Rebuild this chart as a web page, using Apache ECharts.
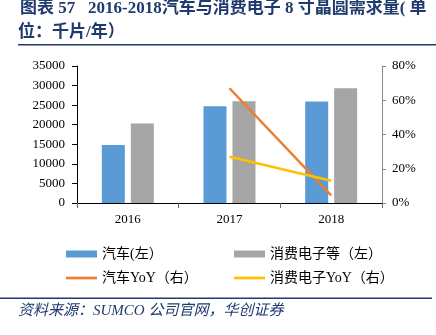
<!DOCTYPE html>
<html><head><meta charset="utf-8">
<script src="https://cdn.jsdelivr.net/npm/echarts@6/dist/echarts.min.js"></script>
<style>html,body{margin:0;padding:0;background:#fff}#c{width:436px;height:335px}</style>
</head><body><div id="c"></div>
<script>
const categories = ['2016', '2017', '2018'];
const autoDemand = [14800, 24700, 25900];
const consumerDemand = [20300, 26000, 29300];
const autoYoY = [null, 0.67, 0.045];
const consumerYoY = [null, 0.27, 0.13];
const leftTicks = [0, 35000, 5000];
const rightTicks = [0, 0.8, 0.2];
const names = ['汽车(左）', '消费电子等（左）', '汽车YoY（右）', '消费电子YoY（右）'];

const serif = '"Liberation Serif","Noto Sans CJK SC",serif';
const cjk = '"Liberation Serif","Noto Sans CJK SC",sans-serif';
const lineIcon = 'path://M0,0 L40,0 L40,3.5 L0,3.5 Z';
const chart = echarts.init(document.getElementById('c'), null, {renderer: 'canvas'});
chart.setOption({
  animation: false,
  backgroundColor: '#fff',
  grid: {left: 77, right: 54, top: 66, bottom: 132},
  graphic: [
    {type: 'text', left: 20, top: 0, style: {text: '图表 57   2016-2018汽车与消费电子 8 寸晶圆需求量( 单', font: 'bold 17px ' + cjk, fill: '#1F3A6E'}},
    {type: 'text', left: 18, top: 24, style: {text: '位：千片/年）', font: 'bold 17px ' + cjk, fill: '#1F3A6E'}},
    {type: 'rect', shape: {x: 18, y: 44, width: 418, height: 1.5}, style: {fill: '#1F3A6E'}},
    {type: 'rect', shape: {x: 0, y: 297.5, width: 432, height: 1.5}, style: {fill: '#1F3A6E'}},
    {type: 'text', left: 18, top: 304, style: {text: '资料来源：SUMCO 公司官网，华创证券', font: 'italic 15px ' + cjk, fill: '#1F3A6E'}}
  ],
  legend: [
    {left: 61, top: 242, orient: 'vertical', itemGap: 10, itemWidth: 31, itemHeight: 18, symbolKeepAspect: true,
     textStyle: {fontFamily: cjk, fontSize: 14, color: '#000'},
     data: [{name: names[0], icon: 'path://M0,0 L31,0 L31,7 L0,7 Z'}, {name: names[2], icon: lineIcon}]},
    {left: 229, top: 242, orient: 'vertical', itemGap: 10, itemWidth: 31, itemHeight: 18, symbolKeepAspect: true,
     textStyle: {fontFamily: cjk, fontSize: 14, color: '#000'},
     data: [{name: names[1], icon: 'path://M0,0 L31,0 L31,7 L0,7 Z'}, {name: names[3], icon: lineIcon}]}
  ],
  xAxis: {
    type: 'category', data: categories, boundaryGap: true,
    axisLine: {lineStyle: {color: '#000', width: 1}},
    axisTick: {show: true, length: 5, lineStyle: {color: '#666'}},
    axisLabel: {fontFamily: serif, fontSize: 13, color: '#000', margin: 10}
  },
  yAxis: [
    {type: 'value', min: leftTicks[0], max: leftTicks[1], interval: leftTicks[2],
     axisLine: {show: true, lineStyle: {color: '#000'}},
     axisTick: {show: true, length: 5, lineStyle: {color: '#000'}},
     splitLine: {show: false},
     axisLabel: {fontFamily: serif, fontSize: 13, color: '#000', margin: 12, formatter: v => String(v)}},
    {type: 'value', min: rightTicks[0], max: rightTicks[1], interval: rightTicks[2], position: 'right',
     axisLine: {show: true, lineStyle: {color: '#888'}},
     axisTick: {show: true, length: 4, lineStyle: {color: '#888'}},
     splitLine: {show: false},
     axisLabel: {fontFamily: serif, fontSize: 13, color: '#000', margin: 10,
       formatter: v => Math.round(v * 100) + '%'}}
  ],
  series: [
    {name: names[0], type: 'bar', data: autoDemand, barWidth: 23, barGap: '26%', itemStyle: {color: '#5B9BD5'}},
    {name: names[1], type: 'bar', data: consumerDemand, barWidth: 23, itemStyle: {color: '#A5A5A5'}},
    {name: names[2], type: 'line', yAxisIndex: 1, data: autoYoY, symbol: 'none', lineStyle: {color: '#ED7D31', width: 2.5}, itemStyle: {color: '#ED7D31'}},
    {name: names[3], type: 'line', yAxisIndex: 1, data: consumerYoY, symbol: 'none', lineStyle: {color: '#FFC000', width: 2.5}, itemStyle: {color: '#FFC000'}}
  ]
});
</script></body></html>
